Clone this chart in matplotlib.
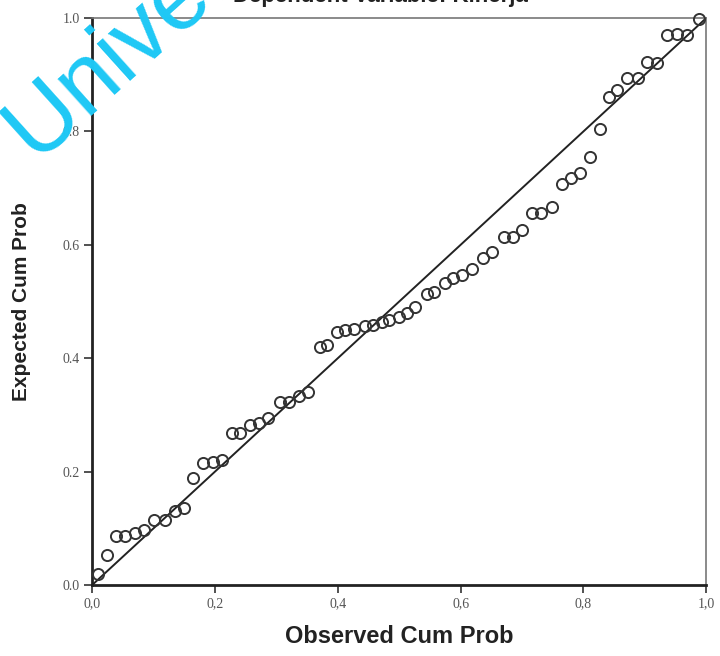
import matplotlib
matplotlib.use("Agg")
import matplotlib.pyplot as plt
import numpy as np

observed = [0.009, 0.024, 0.039, 0.054, 0.070, 0.084, 0.101, 0.119, 0.135, 0.150,
            0.165, 0.181, 0.197, 0.211, 0.228, 0.241, 0.257, 0.271, 0.287, 0.306,
            0.321, 0.336, 0.352, 0.371, 0.382, 0.398, 0.412, 0.426, 0.445, 0.458,
            0.472, 0.484, 0.499, 0.513, 0.526, 0.545, 0.556, 0.575, 0.588, 0.602,
            0.619, 0.637, 0.651, 0.670, 0.685, 0.700, 0.716, 0.731, 0.748, 0.765,
            0.780, 0.795, 0.811, 0.827, 0.841, 0.855, 0.871, 0.888, 0.903, 0.920,
            0.936, 0.952, 0.969, 0.988]
expected = [0.019, 0.053, 0.086, 0.086, 0.092, 0.097, 0.115, 0.115, 0.130, 0.135,
            0.188, 0.216, 0.217, 0.220, 0.268, 0.268, 0.282, 0.285, 0.294, 0.323,
            0.323, 0.333, 0.340, 0.420, 0.423, 0.447, 0.450, 0.451, 0.456, 0.459,
            0.463, 0.467, 0.473, 0.479, 0.491, 0.514, 0.516, 0.532, 0.541, 0.547,
            0.558, 0.576, 0.588, 0.614, 0.614, 0.626, 0.656, 0.656, 0.667, 0.708,
            0.717, 0.727, 0.754, 0.805, 0.860, 0.873, 0.894, 0.894, 0.923, 0.920,
            0.970, 0.972, 0.970, 0.998]
x_ticks = [0.0, 0.2, 0.4, 0.6, 0.8, 1.0]
x_ticklabels = ["0,0", "0,2", "0,4", "0,6", "0,8", "1,0"]
y_ticks = [0.0, 0.2, 0.4, 0.6, 0.8, 1.0]
y_ticklabels = ["0.0", "0.2", "0.4", "0.6", "0.8", "1.0"]

fig = plt.figure(figsize=(7.2, 6.56), dpi=100)
ax = fig.add_axes([0.128, 0.1082, 0.853, 0.8644])

ax.plot([0, 1], [0, 1], color="#222222", lw=1.4, zorder=2)
ax.plot(observed, expected, linestyle="none", marker="o", markersize=8,
        markerfacecolor="none", markeredgecolor="#333333", markeredgewidth=1.4,
        zorder=3, clip_on=False)

ax.set_xlim(0, 1)
ax.set_ylim(0, 1)
ax.set_xticks(x_ticks)
ax.set_xticklabels(x_ticklabels)
ax.set_yticks(y_ticks)
ax.set_yticklabels(y_ticklabels)
ax.tick_params(axis="both", direction="out", length=6, width=1.2, color="#333333",
               labelsize=10, labelcolor="#555555", pad=3)
for lab in ax.get_xticklabels() + ax.get_yticklabels():
    lab.set_fontfamily("Liberation Serif")

for s in ["left", "bottom"]:
    ax.spines[s].set_linewidth(2.0)
    ax.spines[s].set_color("#222222")
for s in ["top", "right"]:
    ax.spines[s].set_linewidth(1.2)
    ax.spines[s].set_color("#777777")

fig.text(0.555, 0.029, "Observed Cum Prob", ha="center", va="center",
         fontsize=17, fontweight="bold", family="Liberation Sans", color="#222222")
fig.text(0.03, 0.54, "Expected Cum Prob", ha="center", va="center", rotation=90,
         fontsize=15, fontweight="bold", family="Liberation Sans", color="#222222")
fig.text(0.528, 1.006, "Dependent Variable: Kinerja", ha="center", va="center",
         fontsize=16, fontweight="bold", family="Liberation Sans", color="#222222")

# watermark
fig.text(35 / 720, 1 - 160 / 656, "Universitas", ha="left", va="baseline",
         rotation=42, rotation_mode="anchor",
         fontsize=68, color="#1ec8f5", family="Liberation Sans", zorder=10)

fig.savefig("out.png", dpi=100)
